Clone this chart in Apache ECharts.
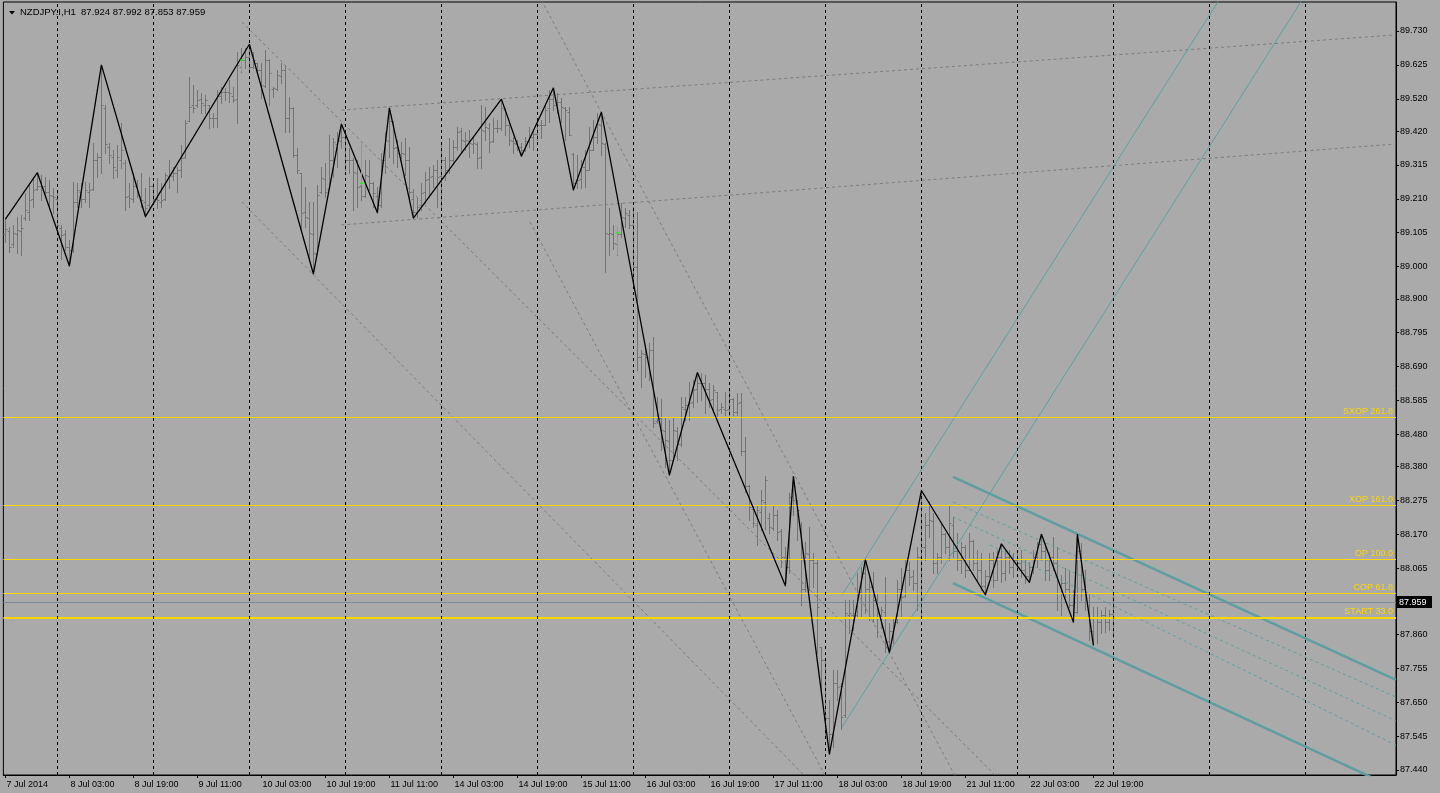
<!DOCTYPE html>
<html>
<head>
<meta charset="utf-8">
<title>NZDJPY.I,H1</title>
<script src="https://cdn.jsdelivr.net/npm/echarts@6/dist/echarts.min.js"></script>
<style>
html, body { margin: 0; padding: 0; background: #aaaaaa; }
#chart { width: 1440px; height: 793px; }
</style>
</head>
<body>
<div id="chart"></div>
<script>
var symbolName = 'NZDJPY.I,H1';

// time axis labels, one every 16 hourly bars
var timeLabels = ['7 Jul 2014', '8 Jul 03:00', '8 Jul 19:00', '9 Jul 11:00', '10 Jul 03:00', '10 Jul 19:00',
  '11 Jul 11:00', '14 Jul 03:00', '14 Jul 19:00', '15 Jul 11:00', '16 Jul 03:00', '16 Jul 19:00',
  '17 Jul 11:00', '18 Jul 03:00', '18 Jul 19:00', '21 Jul 11:00', '22 Jul 03:00', '22 Jul 19:00'];
var labelStep = 16;
// bars where a new day starts
var daySeparators = [13, 37, 61, 85, 109, 133, 157, 181, 205, 229, 253, 277, 301, 325];

var priceTicks = [89.730, 89.625, 89.520, 89.420, 89.315, 89.210, 89.105, 89.000, 88.900, 88.795,
  88.690, 88.585, 88.480, 88.380, 88.275, 88.170, 88.065, 87.860, 87.755, 87.650, 87.545, 87.440];

// hourly bars: open, high, low, close
var ohlc = [
  [89.100,89.147,89.077,89.115],[89.110,89.124,89.046,89.062],[89.070,89.129,89.062,89.103],[89.100,89.155,89.041,89.113],
  [89.110,89.160,89.036,89.118],[89.150,89.227,89.144,89.175],[89.170,89.253,89.144,89.206],[89.210,89.278,89.186,89.237],
  [89.240,89.291,89.237,89.250],[89.250,89.284,89.206,89.247],[89.250,89.278,89.217,89.230],[89.230,89.268,89.186,89.222],
  [89.220,89.242,89.165,89.217],[89.210,89.227,89.118,89.130],[89.120,89.129,89.025,89.098],[89.100,89.113,89.051,89.062],
  [89.060,89.082,89.002,89.050],[89.050,89.263,89.045,89.201],[89.200,89.258,89.186,89.237],[89.230,89.258,89.186,89.210],
  [89.210,89.263,89.201,89.237],[89.230,89.258,89.186,89.237],[89.240,89.382,89.237,89.330],[89.330,89.351,89.278,89.340],
  [89.340,89.625,89.291,89.500],[89.490,89.501,89.351,89.380],[89.370,89.382,89.320,89.346],[89.340,89.361,89.273,89.309],
  [89.300,89.377,89.278,89.340],[89.330,89.444,89.304,89.360],[89.320,89.330,89.175,89.217],[89.220,89.258,89.186,89.211],
  [89.210,89.289,89.201,89.250],[89.250,89.268,89.217,89.222],[89.220,89.289,89.186,89.206],[89.200,89.242,89.155,89.180],
  [89.190,89.278,89.185,89.250],[89.250,89.258,89.196,89.210],[89.210,89.273,89.180,89.206],[89.200,89.258,89.186,89.206],
  [89.210,89.289,89.206,89.284],[89.280,89.330,89.242,89.284],[89.280,89.309,89.268,89.290],[89.290,89.309,89.232,89.299],
  [89.300,89.377,89.278,89.335],[89.340,89.454,89.335,89.444],[89.450,89.588,89.450,89.495],[89.500,89.563,89.480,89.490],
  [89.500,89.547,89.495,89.516],[89.520,89.537,89.475,89.506],[89.500,89.532,89.475,89.516],[89.500,89.501,89.428,89.459],
  [89.460,89.475,89.433,89.459],[89.460,89.547,89.433,89.530],[89.530,89.557,89.506,89.542],[89.540,89.552,89.516,89.542],
  [89.540,89.578,89.511,89.537],[89.530,89.557,89.511,89.516],[89.520,89.664,89.444,89.625],[89.620,89.676,89.604,89.640],
  [89.640,89.676,89.614,89.650],[89.650,89.689,89.604,89.620],[89.620,89.666,89.614,89.640],[89.630,89.630,89.599,89.609],
  [89.610,89.630,89.521,89.563],[89.560,89.671,89.557,89.640],[89.640,89.642,89.501,89.599],[89.550,89.557,89.526,89.552],
  [89.550,89.609,89.547,89.594],[89.590,89.630,89.568,89.609],[89.610,89.625,89.418,89.459],[89.460,89.526,89.418,89.490],
  [89.490,89.495,89.340,89.346],[89.346,89.366,89.289,89.300],[89.290,89.290,89.118,89.165],[89.170,89.247,89.124,89.154],
  [89.150,89.201,89.020,89.103],[89.100,89.201,88.977,89.041],[89.040,89.253,89.040,89.222],[89.230,89.309,89.227,89.273],
  [89.270,89.320,89.216,89.232],[89.240,89.408,89.240,89.330],[89.330,89.397,89.278,89.387],[89.380,89.418,89.309,89.392],
  [89.390,89.442,89.366,89.400],[89.400,89.402,89.299,89.330],[89.330,89.366,89.289,89.330],[89.330,89.335,89.175,89.294],
  [89.290,89.330,89.185,89.247],[89.250,89.330,89.206,89.220],[89.220,89.330,89.216,89.284],[89.280,89.330,89.237,89.258],
  [89.260,89.262,89.185,89.227],[89.220,89.247,89.167,89.190],[89.190,89.351,89.185,89.330],[89.330,89.418,89.289,89.392],
  [89.390,89.492,89.340,89.450],[89.450,89.452,89.320,89.366],[89.370,89.392,89.309,89.351],[89.350,89.387,89.320,89.351],
  [89.350,89.397,89.284,89.330],[89.330,89.371,89.206,89.230],[89.210,89.240,89.150,89.170],[89.170,89.211,89.154,89.185],
  [89.190,89.258,89.175,89.227],[89.230,89.294,89.196,89.268],[89.270,89.309,89.216,89.278],[89.280,89.315,89.247,89.299],
  [89.300,89.330,89.185,89.278],[89.280,89.377,89.175,89.330],[89.330,89.340,89.268,89.299],[89.300,89.397,89.289,89.330],
  [89.330,89.392,89.320,89.371],[89.370,89.433,89.361,89.418],[89.420,89.428,89.351,89.392],[89.390,89.418,89.361,89.392],
  [89.390,89.423,89.340,89.382],[89.380,89.402,89.351,89.382],[89.380,89.387,89.304,89.335],[89.340,89.501,89.304,89.423],
  [89.420,89.495,89.392,89.433],[89.430,89.444,89.356,89.387],[89.390,89.459,89.385,89.428],[89.430,89.454,89.418,89.428],
  [89.430,89.519,89.423,89.490],[89.485,89.490,89.408,89.439],[89.440,89.444,89.377,89.392],[89.390,89.402,89.351,89.382],
  [89.380,89.392,89.361,89.370],[89.370,89.382,89.342,89.360],[89.360,89.402,89.358,89.390],[89.390,89.433,89.371,89.402],
  [89.400,89.423,89.361,89.410],[89.410,89.459,89.392,89.440],[89.440,89.454,89.397,89.439],[89.440,89.501,89.438,89.485],
  [89.490,89.547,89.449,89.520],[89.520,89.554,89.485,89.500],[89.500,89.537,89.475,89.511],[89.510,89.521,89.449,89.495],
  [89.490,89.495,89.392,89.485],[89.480,89.495,89.408,89.408],[89.350,89.351,89.237,89.260],[89.260,89.346,89.242,89.268],
  [89.270,89.330,89.242,89.309],[89.310,89.361,89.247,89.299],[89.300,89.433,89.300,89.361],[89.360,89.454,89.360,89.402],
  [89.400,89.475,89.382,89.443],[89.440,89.479,89.346,89.382],[89.380,89.382,88.984,89.103],[89.100,89.180,89.036,89.103],
  [89.100,89.129,89.056,89.072],[89.070,89.123,89.036,89.100],[89.100,89.196,89.092,89.154],[89.150,89.180,89.123,89.165],
  [89.160,89.175,89.118,89.129],[89.130,89.185,88.948,89.000],[89.000,89.170,88.679,88.720],[88.720,88.741,88.628,88.731],
  [88.730,88.757,88.659,88.721],[88.720,88.762,88.648,88.741],[88.740,88.783,88.504,88.514],[88.520,88.597,88.514,88.535],
  [88.530,88.591,88.431,88.493],[88.490,88.530,88.380,88.462],[88.460,88.524,88.354,88.400],[88.400,88.535,88.400,88.493],
  [88.490,88.504,88.400,88.450],[88.450,88.597,88.445,88.566],[88.560,88.597,88.524,88.570],[88.570,88.643,88.524,88.576],
  [88.580,88.648,88.566,88.617],[88.620,88.672,88.581,88.640],[88.640,88.669,88.586,88.638],[88.640,88.664,88.545,88.622],
  [88.620,88.638,88.566,88.586],[88.590,88.633,88.550,88.617],[88.610,88.612,88.535,88.555],[88.560,88.576,88.545,88.566],
  [88.560,88.612,88.540,88.555],[88.560,88.622,88.540,88.590],[88.590,88.592,88.540,88.550],[88.550,88.607,88.540,88.576],
  [88.580,88.607,88.416,88.430],[88.430,88.472,88.300,88.320],[88.320,88.322,88.214,88.255],[88.250,88.261,88.193,88.204],
  [88.200,88.261,88.137,88.245],[88.240,88.307,88.183,88.276],[88.270,88.350,88.188,88.338],[88.220,88.235,88.173,88.193],
  [88.190,88.258,88.183,88.230],[88.230,88.245,88.152,88.178],[88.180,88.188,88.069,88.101],[88.100,88.131,88.011,88.069],
  [88.070,88.297,88.049,88.286],[88.290,88.350,88.230,88.276],[88.270,88.276,88.152,88.245],[88.200,88.209,87.951,88.000],
  [88.000,88.147,87.995,88.111],[88.110,88.193,87.997,88.090],[88.090,88.111,88.008,88.080],[88.080,88.090,87.801,87.946],
  [87.820,87.822,87.677,87.780],[87.780,87.780,87.543,87.600],[87.600,87.656,87.489,87.550],[87.550,87.749,87.512,87.708],
  [87.710,87.749,87.656,87.698],[87.700,87.708,87.568,87.605],[87.610,87.966,87.605,87.925],[87.920,87.966,87.863,87.925],
  [87.920,87.966,87.873,87.915],[87.920,88.049,87.915,87.987],[87.990,88.069,87.915,88.049],[88.050,88.092,87.925,88.000],
  [88.000,88.049,87.904,88.008],[88.010,88.054,87.900,87.966],[87.970,87.987,87.853,87.925],[87.920,87.946,87.879,87.936],
  [87.930,88.039,87.807,87.840],[87.840,87.894,87.804,87.870],[87.870,87.915,87.833,87.900],[87.900,88.029,87.895,88.000],
  [88.000,88.065,87.915,87.977],[87.980,88.091,87.975,88.060],[88.060,88.086,88.014,88.039],[88.040,88.060,87.998,88.020],
  [88.020,88.132,87.936,88.100],[88.100,88.306,87.915,88.132],[88.130,88.236,88.091,88.200],[88.200,88.272,88.163,88.215],
  [88.210,88.236,88.050,88.080],[88.080,88.112,88.050,88.100],[88.100,88.205,88.081,88.170],[88.170,88.174,88.112,88.130],
  [88.130,88.258,88.091,88.205],[88.200,88.225,88.101,88.120],[88.120,88.174,88.060,88.090],[88.090,88.148,88.050,88.130],
  [88.130,88.138,88.039,88.060],[88.060,88.174,88.060,88.150],[88.150,88.152,88.060,88.080],[88.080,88.122,88.029,88.060],
  [88.060,88.112,87.998,88.010],[88.010,88.060,87.983,88.040],[88.040,88.112,88.039,88.090],[88.090,88.117,88.008,88.030],
  [88.030,88.122,88.030,88.100],[88.100,88.141,88.024,88.050],[88.050,88.122,88.029,88.100],[88.100,88.122,88.050,88.070],
  [88.070,88.112,88.039,88.090],[88.090,88.122,88.060,88.080],[88.080,88.122,88.039,88.060],[88.060,88.091,88.019,88.040],
  [88.040,88.086,88.021,88.070],[88.070,88.122,88.050,88.100],[88.100,88.148,88.070,88.140],[88.140,88.171,88.091,88.120],
  [88.120,88.143,88.029,88.060],[88.060,88.117,88.029,88.100],[88.100,88.163,88.060,88.080],[88.080,88.132,87.936,87.960],
  [87.960,88.045,87.921,88.020],[88.020,88.065,87.977,88.000],[88.000,88.060,87.946,87.950],[87.950,87.998,87.898,87.930],
  [87.930,88.171,87.926,88.120],[88.120,88.143,87.967,88.000],[88.000,88.060,87.936,87.960],[87.960,87.988,87.843,87.870],
  [87.870,87.946,87.826,87.910],[87.910,87.946,87.833,87.900],[87.900,87.936,87.864,87.920],[87.920,87.946,87.869,87.900],
  [87.900,87.936,87.874,87.924],[87.924,87.992,87.853,87.959]
];

// zigzag pivots: [bar, price]
var zigzag = [[0,89.147],[8,89.291],[16,89.002],[24,89.625],[35,89.155],[61,89.689],[77,88.977],[84,89.442],
  [93,89.167],[96,89.492],[102,89.150],[124,89.519],[129,89.342],[137,89.554],[142,89.237],[149,89.479],
  [166,88.354],[173,88.672],[195,88.011],[197,88.350],[206,87.489],[215,88.092],[221,87.804],[229,88.306],
  [245,87.983],[249,88.141],[256,88.021],[259,88.171],[267,87.898],[268,88.171],[272,87.826]];

var levelNames = ['SXOP 261.8', 'XOP 161.0', 'OP 100.0', 'COP 61.8', 'START 33.0'];
var levelPrices = [88.534, 88.261, 88.094, 87.988, 87.911];

// trend lines: [bar1, price1, bar2, price2]
var grayLines = [[84,89.485,347.65,89.718],[84,89.129,347.65,89.380],[59.15,89.758,250,87.392],
  [134,89.826,239,87.385],[131.15,89.138,206,87.398],[59.15,89.200,202,87.394]];
var tealThick = [[236.9,88.348,347.65,87.719],[236.9,88.019,347.65,87.382]];
var tealThin = [[209.15,87.982,303.4,89.826],[209.15,87.573,324.15,89.826]];
var tealDashed = [[236.9,88.270,347.65,87.666],[236.9,88.224,347.65,87.592],[246.15,88.137,347.65,87.517]];
// green arrows: [bar, top, bottom, tick]
var arrows = [[59,89.640,89.604,89.640],[89,89.387,89.252,89.258],[153,89.123,89.036,89.105]];

var barColor = '#737373';
var teal = '#5f9ea0';
var gold = '#ffd700';
var font = 'Liberation Sans';

var chart = echarts.init(document.getElementById('chart'));
var last = ohlc[ohlc.length - 1];

function crisp(v) { return Math.round(v) + 0.5; }

function renderBar(params, api) {
  var i = api.value(0);
  var op = api.coord([i, api.value(1)]);
  var hi = api.coord([i, api.value(2)]);
  var lo = api.coord([i, api.value(3)]);
  var cl = api.coord([i, api.value(4)]);
  var x = crisp(hi[0]);
  var st = { stroke: barColor, lineWidth: 1 };
  return { type: 'group', children: [
    { type: 'line', shape: { x1: x, y1: Math.round(hi[1]), x2: x, y2: Math.round(lo[1]) + 1 }, style: st },
    { type: 'line', shape: { x1: x - 2, y1: crisp(op[1]), x2: x, y2: crisp(op[1]) }, style: st },
    { type: 'line', shape: { x1: x, y1: crisp(cl[1]), x2: x + 2, y2: crisp(cl[1]) }, style: st }
  ]};
}

function renderArrow(params, api) {
  var i = api.value(0);
  var t = api.coord([i, api.value(1)]);
  var b = api.coord([i, api.value(2)]);
  var k = api.coord([i, api.value(3)]);
  var x = crisp(t[0]);
  var st = { stroke: '#00ff00', lineWidth: 1 };
  return { type: 'group', children: [
    { type: 'line', shape: { x1: x, y1: t[1], x2: x, y2: b[1] }, style: st },
    { type: 'line', shape: { x1: x - 1.5, y1: k[1], x2: x + 1.5, y2: k[1] }, style: st }
  ]};
}

// horizontal levels with their names, drawn on whole pixels
function renderLevel(params, api) {
  var k = api.value(0);
  var cs = params.coordSys;
  var y = api.coord([0, api.value(1)])[1];
  var w = k === levelNames.length - 1 ? 2 : 1;
  var yy = w === 1 ? crisp(y) : Math.round(y);
  return { type: 'group', children: [
    { type: 'line', shape: { x1: cs.x, y1: yy, x2: cs.x + cs.width, y2: yy }, style: { stroke: gold, lineWidth: w } },
    { type: 'text', style: { text: levelNames[k], x: cs.x + cs.width - 3, y: yy - w / 2 - 1, align: 'right',
      verticalAlign: 'bottom', fill: gold, font: '9px "Liberation Sans"' } }
  ]};
}

// last price line and its black tag on the price scale
function renderPrice(params, api) {
  var cs = params.coordSys;
  var y = crisp(api.coord([0, api.value(1)])[1]);
  var right = cs.x + cs.width;
  return { type: 'group', children: [
    { type: 'line', shape: { x1: cs.x, y1: y, x2: right, y2: y }, style: { stroke: '#7b8a9a', lineWidth: 1 } },
    { type: 'rect', shape: { x: right + 1, y: y - 6.5, width: 35, height: 12 }, style: { fill: '#000' } },
    { type: 'text', style: { text: api.value(1).toFixed(3), x: right + 3, y: y, verticalAlign: 'middle',
      fill: '#fff', font: '9px "Liberation Sans"' } }
  ]};
}

function segment(name, d, color, width, type) {
  return {
    name: name, type: 'line', symbol: 'none', silent: true, clip: true, z: 3,
    data: [[d[0], d[1]], [d[2], d[3]]],
    lineStyle: { color: color, width: width, type: type }
  };
}

var marks = daySeparators.map(function (b) {
  return { xAxis: b, lineStyle: { color: '#000', width: 1, type: [3, 3] } };
});

var series = [
  {
    name: 'bars', type: 'custom', renderItem: renderBar, z: 2, silent: true,
    encode: { x: 0, y: [1, 2, 3, 4] },
    data: ohlc.map(function (d, i) { return [i, d[0], d[1], d[2], d[3]]; })
  },
  {
    name: 'levels', type: 'custom', renderItem: renderLevel, z: 4, silent: true,
    encode: { x: 0, y: 1 },
    data: levelPrices.map(function (p, k) { return [k, p]; })
  },
  {
    name: 'price', type: 'custom', renderItem: renderPrice, z: 4, silent: true,
    encode: { x: 0, y: 1 },
    data: [[0, last[3]]]
  },
  {
    name: 'arrows', type: 'custom', renderItem: renderArrow, z: 6, silent: true,
    encode: { x: 0, y: [1, 2, 3] },
    data: arrows
  },
  {
    name: 'zigzag', type: 'line', symbol: 'none', z: 5, silent: true,
    data: zigzag,
    lineStyle: { color: '#000', width: 1.3 },
    markLine: { symbol: ['none', 'none'], silent: true, animation: false, label: { show: false }, data: marks }
  }
];
grayLines.forEach(function (d, k) { series.push(segment('gray' + k, d, '#7c7c7c', 1, [3, 3])); });
tealThick.forEach(function (d, k) { series.push(segment('tealThick' + k, d, teal, 2.5, 'solid')); });
tealThin.forEach(function (d, k) { series.push(segment('tealThin' + k, d, teal, 1, 'solid')); });
tealDashed.forEach(function (d, k) { series.push(segment('tealDashed' + k, d, teal, 1, [3, 3])); });

var option = {
  animation: false,
  backgroundColor: '#aaaaaa',
  textStyle: { fontFamily: font },
  grid: { left: 3.4, right: 44, top: 2, bottom: 18, show: true, borderColor: '#000', borderWidth: 1 },
  graphic: [
    { type: 'polygon', shape: { points: [[9, 11], [15, 11], [12, 14.5]] }, style: { fill: '#000' }, z: 10 },
    { type: 'text', left: 20, top: 7, z: 10,
      style: { text: symbolName + '  ' + last.map(function (v) { return v.toFixed(3); }).join(' '),
        font: '9.5px "Liberation Sans"', fill: '#000' } }
  ],
  xAxis: {
    type: 'value', min: -0.5, max: 347.65,
    axisLine: { show: true, onZero: false, lineStyle: { color: '#000' } },
    axisTick: { show: true, length: 3, lineStyle: { color: '#000' },
      customValues: timeLabels.map(function (t, k) { return k * labelStep; }) },
    axisLabel: { color: '#000', fontSize: 9, fontFamily: font, align: 'left', margin: 5, padding: [0, 0, 0, 1],
      customValues: timeLabels.map(function (t, k) { return k * labelStep; }),
      formatter: function (v) { return timeLabels[Math.round(v / labelStep)] || ''; } },
    splitLine: { show: false }
  },
  yAxis: {
    type: 'value', position: 'right', min: 87.4244, max: 89.8199, scale: true,
    axisLine: { show: true, onZero: false, lineStyle: { color: '#000' } },
    axisTick: { show: true, length: 3, lineStyle: { color: '#000' }, customValues: priceTicks },
    axisLabel: { color: '#000', fontSize: 9, fontFamily: font, margin: 4, customValues: priceTicks,
      formatter: function (v) { return v.toFixed(3); } },
    splitLine: { show: false }
  },
  series: series
};

chart.setOption(option);
</script>
</body>
</html>
